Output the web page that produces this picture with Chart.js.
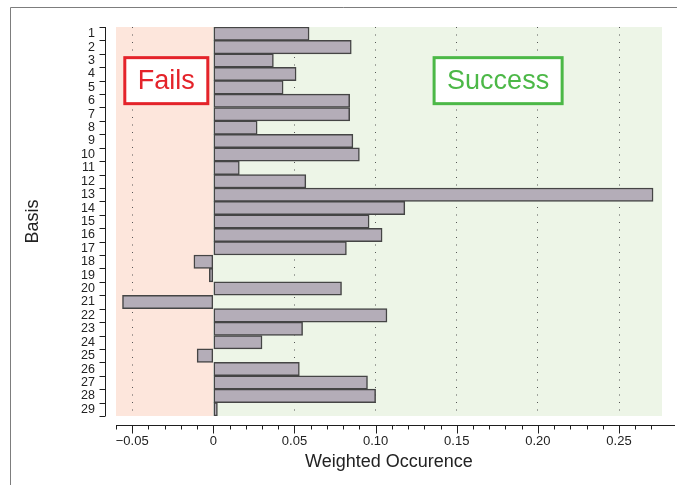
<!DOCTYPE html>
<html>
<head>
<meta charset="utf-8">
<title>Weighted Occurence per Basis</title>
<script src="https://cdn.jsdelivr.net/npm/chart.js@4.4.1/dist/chart.umd.min.js"></script>
<style>
  html, body { margin: 0; padding: 0; background: #fff; }
  #wrap { position: relative; width: 677px; height: 485px; }
</style>
</head>
<body>
<div id="wrap"><canvas id="chart"></canvas></div>
<script>
// basis index on the y axis, one bar per basis
const basisLabels = ['1', '2', '3', '4', '5', '6', '7', '8', '9', '10',
  '11', '12', '13', '14', '15', '16', '17', '18', '19', '20',
  '21', '22', '23', '24', '25', '26', '27', '28', '29'];

const weightedOccurence = [0.059, 0.085, 0.037, 0.051, 0.043, 0.084, 0.084, 0.027, 0.086, 0.090,
  0.016, 0.057, 0.271, 0.118, 0.096, 0.104, 0.082, -0.012, -0.0025, 0.079,
  -0.056, 0.107, 0.055, 0.030, -0.010, 0.053, 0.095, 0.100, 0.0025];

// x axis range, minor step and labelled step
const xMin = -0.06;
const xMax = 0.2765;
const xStep = 0.01;
const xLabelEvery = 5;

// region captions: text, x position (data units), basis row boundary they sit on
const regionNotes = [
  { text: 'Fails', x: -0.029, row: 3.5, color: '#e4232a' },
  { text: 'Success', x: 0.1755, row: 3.5, color: '#4cb847' }
];

const FONT = "'Liberation Sans', Arial, Helvetica, sans-serif";

function isLabelled(v) {
  return Math.round(v / xStep) % xLabelEvery === 0;
}

function formatTick(v) {
  const k = Math.round(v / xStep);
  if (k % xLabelEvery !== 0) return '';
  if (k === 0) return '0';
  const s = (Math.abs(k) * xStep).toFixed(2);
  return k < 0 ? '\u2212' + s : s;
}

// pink/green background split at zero
const regionShading = {
  id: 'regionShading',
  beforeDraw(chart) {
    const { ctx, chartArea: a, scales: { x } } = chart;
    const x0 = x.getPixelForValue(0);
    ctx.save();
    ctx.fillStyle = '#fde6dc';
    ctx.fillRect(a.left, a.top, x0 - a.left, a.bottom - a.top);
    ctx.fillStyle = '#edf5e7';
    ctx.fillRect(x0, a.top, a.right - x0, a.bottom - a.top);
    ctx.restore();
  }
};

// detached axes (R style), outer frame and the captions
const plotAxes = {
  id: 'plotAxes',
  afterDraw(chart) {
    const { ctx, chartArea: a, scales: { x, y } } = chart;
    ctx.save();
    ctx.strokeStyle = '#1e1e1e';
    ctx.lineWidth = 1;
    ctx.beginPath();

    const ay = Math.round(a.bottom + 9) + 0.5;
    ctx.moveTo(a.left, ay);
    ctx.lineTo(chart.width - 2, ay);
    x.ticks.forEach(t => {
      const px = Math.round(x.getPixelForValue(t.value)) + 0.5;
      ctx.moveTo(px, ay);
      ctx.lineTo(px, ay + (isLabelled(t.value) ? 8 : 4));
    });

    const ax = Math.round(a.left - 10) - 0.5;
    ctx.moveTo(ax, a.top);
    ctx.lineTo(ax, a.bottom);
    for (let i = 0; i <= basisLabels.length; i++) {
      const py = Math.round(y.getPixelForValue(i - 0.5)) + 0.5;
      ctx.moveTo(ax - 6, py);
      ctx.lineTo(ax, py);
    }
    ctx.stroke();

    // figure frame
    ctx.strokeStyle = '#7d7d7d';
    ctx.beginPath();
    ctx.moveTo(10.5, chart.height);
    ctx.lineTo(10.5, 7.5);
    ctx.lineTo(chart.width, 7.5);
    ctx.stroke();

    ctx.font = '27px ' + FONT;
    ctx.textAlign = 'center';
    ctx.textBaseline = 'middle';
    regionNotes.forEach(n => {
      const cx = x.getPixelForValue(n.x);
      const cy = y.getPixelForValue(n.row);
      const w = ctx.measureText(n.text).width + 26;
      const h = 46;
      ctx.fillStyle = '#fff';
      ctx.fillRect(cx - w / 2, cy - h / 2, w, h);
      ctx.lineWidth = 3;
      ctx.strokeStyle = n.color;
      ctx.strokeRect(cx - w / 2, cy - h / 2, w, h);
      ctx.fillStyle = n.color;
      ctx.fillText(n.text, cx, cy + 1);
    });
    ctx.restore();
  }
};

new Chart(document.getElementById('chart'), {
  type: 'bar',
  data: {
    labels: basisLabels,
    datasets: [{
      data: weightedOccurence,
      backgroundColor: '#b4adb8',
      borderColor: '#454545',
      borderWidth: 1.5,
      borderSkipped: false,
      barPercentage: 1,
      categoryPercentage: 1
    }]
  },
  options: {
    indexAxis: 'y',
    responsive: true,
    maintainAspectRatio: false,
    animation: false,
    events: [],
    layout: { padding: { left: 12, top: 27, right: 15, bottom: 0 } },
    plugins: { legend: { display: false }, tooltip: { enabled: false } },
    scales: {
      x: {
        type: 'linear',
        min: xMin,
        max: xMax,
        afterFit(scale) { scale.height = 69; },
        border: { display: false, dash: [1, 6.5] },
        grid: {
          drawOnChartArea: true,
          drawTicks: true,
          tickLength: 15,
          tickColor: 'transparent',
          lineWidth: 1,
          color: ctx => (ctx.tick && isLabelled(ctx.tick.value) && Math.round(ctx.tick.value / xStep) !== 0)
            ? '#555' : 'transparent'
        },
        ticks: {
          stepSize: xStep,
          includeBounds: false,
          autoSkip: false,
          maxRotation: 0,
          padding: 3,
          color: '#222',
          font: { family: FONT, size: 13 },
          callback: v => formatTick(v)
        },
        title: {
          display: true,
          text: 'Weighted Occurence',
          color: '#222',
          font: { family: FONT, size: 18 },
          padding: { top: 0, bottom: 12 }
        }
      },
      y: {
        afterFit(scale) { scale.width = 104; },
        border: { display: false },
        grid: {
          offset: true,
          drawOnChartArea: false,
          drawTicks: true,
          tickLength: 10,
          color: 'transparent',
          tickColor: 'transparent'
        },
        ticks: {
          autoSkip: false,
          padding: 11,
          color: '#222',
          font: { family: FONT, size: 12.5 }
        },
        title: {
          display: true,
          text: 'Basis',
          color: '#222',
          font: { family: FONT, size: 18 },
          padding: { top: 10, bottom: 0 }
        }
      }
    }
  },
  plugins: [regionShading, plotAxes]
});
</script>
</body>
</html>
